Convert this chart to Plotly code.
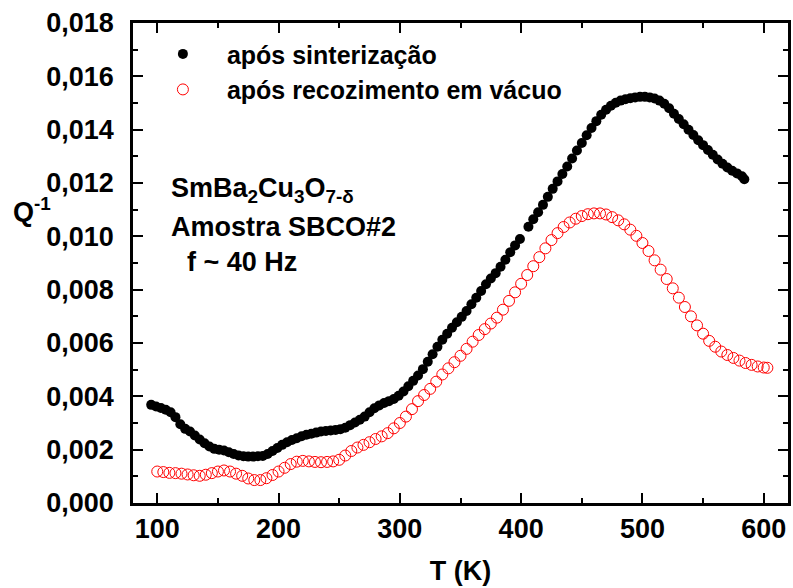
import plotly.graph_objects as go

# ---- data ----
T_sint = [95, 99, 103, 107, 111, 115, 119, 123, 127, 131, 135, 139, 143, 147, 151, 155, 159, 163, 167, 171,
          175, 179, 183, 187, 191, 195, 199, 203, 207, 211, 215, 219, 223, 227, 231, 235, 239, 243, 247, 251,
          255, 259, 263, 267, 271, 275, 279, 283, 287, 291, 295, 299, 303, 307, 311, 315, 319, 323, 327, 331,
          335, 339, 343, 347, 351, 355, 359, 363, 367, 371, 375, 379, 383, 387, 391, 395, 399, 406, 410, 414,
          418, 422, 426, 430, 434, 438, 442, 446, 450, 454, 458, 462, 466, 470, 474, 478, 482, 486, 490, 494,
          498, 502, 506, 510, 514, 518, 522, 526, 530, 534, 538, 542, 546, 550, 554, 558, 562, 566, 570, 574,
          578, 582, 584]
Q_sint = [3.68, 3.62, 3.56, 3.50, 3.40, 3.22, 2.95, 2.78, 2.68, 2.53, 2.38, 2.24, 2.12, 2.03, 2.00, 1.97, 1.90, 1.84, 1.78, 1.75,
          1.74, 1.74, 1.75, 1.76, 1.84, 1.95, 2.06, 2.18, 2.28, 2.36, 2.43, 2.50, 2.56, 2.60, 2.64, 2.68, 2.70, 2.72, 2.74, 2.77,
          2.82, 2.92, 3.02, 3.12, 3.24, 3.40, 3.55, 3.66, 3.75, 3.82, 3.90, 4.02, 4.18, 4.38, 4.58, 4.78, 5.02, 5.30, 5.58, 5.86,
          6.12, 6.35, 6.57, 6.78, 6.98, 7.20, 7.45, 7.70, 7.95, 8.20, 8.42, 8.62, 8.86, 9.12, 9.40, 9.66, 9.90, 10.36, 10.64, 10.90,
          11.18, 11.48, 11.78, 12.06, 12.34, 12.62, 12.92, 13.22, 13.50, 13.79, 14.06, 14.32, 14.56, 14.75, 14.90, 15.01, 15.09, 15.14, 15.18, 15.21,
          15.23, 15.23, 15.21, 15.17, 15.09, 14.97, 14.80, 14.60, 14.40, 14.20, 14.00, 13.80, 13.60, 13.42, 13.24, 13.06, 12.88, 12.72, 12.58, 12.46,
          12.36, 12.25, 12.14]

T_vac = [100, 105, 110, 115, 120, 125, 130, 135, 140, 145, 150, 155, 160, 165, 170, 175, 180, 185, 190, 195,
         200, 205, 210, 215, 220, 225, 230, 235, 240, 245, 250, 255, 260, 265, 270, 275, 280, 285, 290, 295,
         300, 305, 310, 315, 320, 325, 330, 335, 340, 345, 350, 355, 360, 365, 370, 375, 380, 385, 390, 395,
         400, 405, 410, 415, 420, 425, 430, 435, 440, 445, 450, 455, 460, 465, 470, 475, 480, 485, 490, 495,
         500, 505, 510, 515, 520, 525, 530, 535, 540, 545, 550, 555, 560, 565, 570, 575, 580, 585, 590, 595,
         600, 603]
Q_vac = [1.18, 1.16, 1.13, 1.12, 1.10, 1.07, 1.04, 1.02, 1.06, 1.12, 1.18, 1.22, 1.18, 1.10, 1.02, 0.92, 0.86, 0.86, 0.93, 1.05,
         1.18, 1.32, 1.46, 1.55, 1.58, 1.56, 1.54, 1.53, 1.54, 1.56, 1.62, 1.78, 1.95, 2.08, 2.18, 2.28, 2.40, 2.50, 2.62, 2.80,
         3.00, 3.24, 3.52, 3.82, 4.05, 4.28, 4.55, 4.82, 5.05, 5.28, 5.52, 5.78, 6.05, 6.30, 6.52, 6.73, 6.95, 7.25, 7.58, 7.90,
         8.22, 8.55, 8.88, 9.22, 9.55, 9.86, 10.12, 10.35, 10.52, 10.66, 10.76, 10.83, 10.86, 10.86, 10.82, 10.72, 10.60, 10.45, 10.25, 10.02,
         9.75, 9.45, 9.10, 8.75, 8.40, 8.05, 7.70, 7.35, 7.00, 6.66, 6.35, 6.08, 5.86, 5.68, 5.55, 5.44, 5.34, 5.25, 5.18, 5.12,
         5.08, 5.07]
Q_SCALE = 1e-3  # values above are in units of 10^-3

series_names = ["após sinterização", "após recozimento em vácuo"]
x_ticks = [100, 200, 300, 400, 500, 600]

FONT = "Liberation Sans, Arial, sans-serif"

fig = go.Figure()
fig.add_trace(go.Scatter(
    x=T_sint, y=[q * Q_SCALE for q in Q_sint], mode="markers", name=series_names[0],
    legendgroup="a",
    marker=dict(symbol="circle", size=10, color="black", line=dict(width=0))))
fig.add_trace(go.Scatter(
    x=T_vac, y=[q * Q_SCALE for q in Q_vac], mode="markers", name=series_names[1],
    legendgroup="b",
    marker=dict(symbol="circle-open", size=11, color="#ff0000", line=dict(width=1, color="#ff0000"))))

axis_common = dict(
    showline=True, linewidth=2.5, linecolor="black", mirror="allticks",
    ticks="inside", ticklen=10, tickwidth=2, tickcolor="black",
    showgrid=False, zeroline=False,
    tickfont=dict(family=FONT, size=27, color="black", weight="bold"),
)

fig.update_xaxes(
    range=[80, 620], tickvals=x_ticks, ticktext=[str(v) for v in x_ticks],
    minor=dict(dtick=50, tick0=0, ticks="inside", ticklen=5, tickwidth=2, tickcolor="black"),
    title=dict(text="<b>T (K)</b>", font=dict(family=FONT, size=27, color="black"), standoff=18),
    ticklabelstandoff=0,
    **axis_common)
fig.update_yaxes(
    range=[0, 0.018], dtick=0.002, tick0=0, tickformat=".3f",
    minor=dict(dtick=0.001, tick0=0, ticks="inside", ticklen=5, tickwidth=2, tickcolor="black"),
    ticklabelstandoff=11,
    **axis_common)

ann_font = dict(family=FONT, size=27, color="black")
fig.add_annotation(text="<b>Q<sup>-1</sup></b>", xref="paper", yref="paper", x=-0.186, y=0.61,
                   xanchor="left", yanchor="middle", showarrow=False, font=ann_font)
fig.add_annotation(text="<b>SmBa<sub>2</sub>Cu<sub>3</sub>O<sub>7-δ</sub></b>", xref="paper", yref="paper",
                   x=0.055, y=0.652, xanchor="left", yanchor="middle", showarrow=False, font=ann_font)
fig.add_annotation(text="<b>Amostra SBCO#2</b>", xref="paper", yref="paper",
                   x=0.055, y=0.576, xanchor="left", yanchor="middle", showarrow=False, font=ann_font)
fig.add_annotation(text="<b>f ~ 40 Hz</b>", xref="paper", yref="paper",
                   x=0.079, y=0.503, xanchor="left", yanchor="middle", showarrow=False, font=ann_font)

fig.update_layout(
    width=793, height=588,
    margin=dict(l=133, r=2, t=23, b=85),
    paper_bgcolor="white", plot_bgcolor="white",
    separators=",.",
    showlegend=True,
    legend=dict(x=0.009, y=0.983, xanchor="left", yanchor="top", bgcolor="rgba(0,0,0,0)",
                font=dict(family=FONT, size=25, color="black", weight="bold"),
                tracegroupgap=0, itemwidth=78),
)

fig.write_html("out.html")
